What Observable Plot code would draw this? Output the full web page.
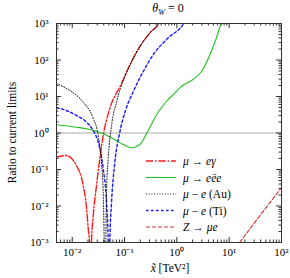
<!DOCTYPE html>
<html><head><meta charset="utf-8">
<script src="https://cdn.jsdelivr.net/npm/d3@7"></script>
<script src="https://cdn.jsdelivr.net/npm/@observablehq/plot@0.6"></script>
<style>body{margin:0;background:#fff;} svg{display:block}</style>
</head><body><div id="chart"></div>
<script>
// ---- data ----
const egX = [0.005, 0.0078, 0.0098, 0.012, 0.0162, 0.0188, 0.0202, 0.0214, 0.0223, 0.0233, 0.0252, 0.0291, 0.0337, 0.0391, 0.0523, 0.0838, 0.130, 0.202, 0.313, 0.452, 0.5];
const egY = [0.217, 0.242, 0.196, 0.129, 0.0365, 0.0086, 0.0024, 0.001, 0.00001, 0.001, 0.0055, 0.0365, 0.20, 0.855, 4.7, 20, 79, 250, 578, 1018, 1400];

const eeeX = [0.005, 0.01205, 0.0217, 0.0391, 0.0607, 0.0942, 0.117, 0.140, 0.17, 0.2018, 0.271, 0.421, 0.654, 0.9, 1.175, 2.11, 3.05, 4.08, 5.48, 7.14, 7.5];
const eeeY = [1.68, 1.44, 1.25, 0.95, 0.694, 0.484, 0.413, 0.393, 0.427, 0.506, 1.05, 3.36, 7.77, 12.1, 18, 30.5, 51.5, 119, 342, 1086, 1300];

const auX = [0.005, 0.009, 0.0162, 0.0252, 0.0314, 0.0362, 0.0391, 0.0408, 0.0423, 0.0438, 0.0452, 0.0487, 0.0564, 0.0702, 0.0838, 0.13, 0.202, 0.313, 0.452, 0.5];
const auY = [22.7, 14.6, 7.0, 2.5, 0.855, 0.156, 0.0234, 0.001, 0.00001, 0.001, 0.0234, 0.2, 1.6, 7.0, 17, 78, 248, 575, 1010, 1400];

const tiX = [0.005, 0.00776, 0.01205, 0.01875, 0.0252, 0.0314, 0.0391, 0.0452, 0.0487, 0.0505, 0.0523, 0.0564, 0.0652, 0.0811, 0.1042, 0.150, 0.233, 0.362, 0.654, 1.36, 1.5];
const tiY = [4.9, 4.13, 3.02, 1.98, 1.17, 0.56, 0.106, 0.0127, 0.001, 0.00001, 0.001, 0.0127, 0.158, 1.05, 4.13, 14.6, 51.5, 148, 381, 1018, 1300];

const zX = [15.8, 40, 100];
const zY = [0.001, 0.0058, 0.0321];

const majorX = [0.01, 0.1, 1, 10, 100];
const majorY = [0.001, 0.01, 0.1, 1, 10, 100, 1000];

// ---- layout ----
const W = 290, H = 278, mL = 56, mR = 9, mT = 23, mB = 36;
const innerW = W - mL - mR, innerH = H - mT - mB;

const supMap = {"-": "⁻", "0": "⁰", "1": "¹", "2": "²", "3": "³"};
const fmt = d => "10" + String(Math.round(Math.log10(d))).split("").map(c => supMap[c]).join("");
function minors(lo, hi) {
  const a = [];
  for (let k = -4; k <= 3; k++) for (let m = 2; m <= 9; m++) {
    const v = m * Math.pow(10, k);
    if (v >= lo * 0.999 && v <= hi * 1.001) a.push(v);
  }
  return a;
}
const minorX = minors(0.005, 100);
const minorY = minors(0.001, 1000);
const ser = (xs, ys) => xs.map((x, i) => ({x, y: ys[i]}));
const fr = "#333";

const cRed = "#ff1a1a", cGreen = "#22c022", cBlack = "#000", cBlue = "#1a1aff", cZ = "#cc3333";
const dRed = "7,2,1.5,2", dBlack = "0.9,1.8", dBlue = "2.6,2.4", dZ = "4,2";

const plot = Plot.plot({
  width: W, height: H, marginLeft: mL, marginRight: mR, marginTop: mT, marginBottom: mB,
  style: {fontFamily: "'Liberation Serif', serif", fontSize: "11px", background: "#fff", color: "#000"},
  x: {type: "log", domain: [0.005, 100]},
  y: {type: "log", domain: [1e-3, 1e3]},
  marks: [
    Plot.ruleY([1], {stroke: "#aaa", strokeWidth: 1}),
    Plot.line(ser(zX, zY), {x: "x", y: "y", stroke: cZ, strokeWidth: 1.1, strokeDasharray: dZ, clip: true}),
    Plot.line(ser(eeeX, eeeY), {x: "x", y: "y", stroke: cGreen, strokeWidth: 1.1, curve: "monotone-x", clip: true}),
    Plot.line(ser(tiX, tiY), {x: "x", y: "y", stroke: cBlue, strokeWidth: 1.4, strokeDasharray: dBlue, curve: "monotone-x", clip: true}),
    Plot.line(ser(egX, egY), {x: "x", y: "y", stroke: cRed, strokeWidth: 1.4, strokeDasharray: dRed, curve: "monotone-x", clip: true}),
    Plot.line(ser(auX, auY), {x: "x", y: "y", stroke: cBlack, strokeWidth: 1, strokeDasharray: dBlack, curve: "monotone-x", clip: true}),
    Plot.frame({stroke: fr}),
    Plot.tickX(majorX, {x: d => d, insetTop: innerH - 5, stroke: fr}),
    Plot.tickX(majorX, {x: d => d, insetBottom: innerH - 5, stroke: fr}),
    Plot.tickX(minorX, {x: d => d, insetTop: innerH - 2.5, stroke: fr}),
    Plot.tickX(minorX, {x: d => d, insetBottom: innerH - 2.5, stroke: fr}),
    Plot.tickY(majorY, {y: d => d, insetRight: innerW - 5, stroke: fr}),
    Plot.tickY(majorY, {y: d => d, insetLeft: innerW - 5, stroke: fr}),
    Plot.tickY(minorY, {y: d => d, insetRight: innerW - 2.5, stroke: fr}),
    Plot.tickY(minorY, {y: d => d, insetLeft: innerW - 2.5, stroke: fr}),
    Plot.axisX(majorX, {anchor: "bottom", tickSize: 0, tickPadding: 6, tickFormat: fmt, label: null}),
    Plot.axisY(majorY, {anchor: "left", tickSize: 0, tickPadding: 8, tickFormat: fmt, label: null})
  ]
});
document.getElementById("chart").appendChild(plot);

const svg = d3.select(plot);
const font = "'Liberation Serif', serif";

// title
const t = svg.append("text").attr("x", 168).attr("y", 12).attr("text-anchor", "middle")
  .style("font-family", font).style("font-size", "12px");
t.append("tspan").style("font-style", "italic").text("θ");
t.append("tspan").style("font-style", "italic").style("font-size", "8px").attr("dy", 2.5).text("W");
t.append("tspan").attr("dy", -2.5).text(" = 0");

// y label
svg.append("text").attr("transform", "translate(12,132.5) rotate(-90)")
  .attr("text-anchor", "middle").attr("dominant-baseline", "central")
  .style("font-family", font).style("font-size", "11.5px").text("Ratio to current limits");

// x label
const xl = svg.append("text").attr("x", 170).attr("y", 272).attr("text-anchor", "middle")
  .style("font-family", font).style("font-size", "11.5px");
xl.append("tspan").style("font-style", "italic").text("x̃");
xl.append("tspan").text(" [TeV²]");

// legend
const legend = [
  {parts: [["μ", 1], [" → ", 0], ["eγ", 1]], stroke: cRed, dash: dRed, w: 1.4},
  {parts: [["μ", 1], [" → ", 0], ["eēe", 1]], stroke: cGreen, dash: null, w: 1.1},
  {parts: [["μ", 1], [" − ", 0], ["e", 1], [" (Au)", 0]], stroke: cBlack, dash: dBlack, w: 1},
  {parts: [["μ", 1], [" − ", 0], ["e", 1], [" (Ti)", 0]], stroke: cBlue, dash: dBlue, w: 1.4},
  {parts: [["Z", 1], [" → ", 0], ["μe", 1]], stroke: cZ, dash: dZ, w: 1.1}
];
const lg = svg.append("g");
legend.forEach((d, i) => {
  const y = 161 + i * 16.5;
  lg.append("line").attr("x1", 146).attr("x2", 176).attr("y1", y).attr("y2", y)
    .attr("stroke", d.stroke).attr("stroke-width", d.w).attr("stroke-dasharray", d.dash);
  const tx = lg.append("text").attr("x", 183).attr("y", y).attr("dominant-baseline", "central")
    .attr("text-anchor", "start")
    .style("font-family", font).style("font-size", "11.5px");
  d.parts.forEach(([s, it]) => tx.append("tspan").style("font-style", it ? "italic" : "normal").text(s));
});
</script>
</body></html>
